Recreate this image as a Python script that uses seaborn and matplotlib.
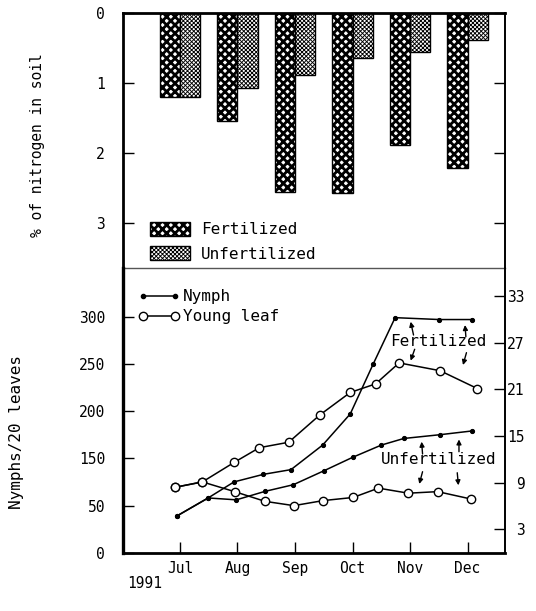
import numpy as np
import pandas as pd
import matplotlib
matplotlib.use("Agg")
import matplotlib.pyplot as plt
import matplotlib.transforms as mtransforms
import seaborn as sns
from matplotlib.lines import Line2D

# ---------------- data ----------------
months = ["Jul", "Aug", "Sep", "Oct", "Nov", "Dec"]
treatments = ["Fertilized", "Unfertilized"]
nitrogen_fert = [1.20, 1.55, 2.55, 2.57, 1.89, 2.22]
nitrogen_unfert = [1.20, 1.07, 0.89, 0.65, 0.56, 0.39]

# x in months after Jul (Jul = 0)
nymph_fert_x = [-0.05, 0.49, 0.94, 1.45, 1.93, 2.48, 2.96, 3.36, 3.74, 4.51, 5.08]
nymph_fert_y = [89, 108, 125, 133, 138, 164, 197, 250, 299, 297, 297]
nymph_unfert_x = [-0.05, 0.49, 0.98, 1.48, 1.97, 2.51, 3.00, 3.50, 3.89, 4.52, 5.08]
nymph_unfert_y = [89, 108, 106, 115, 122, 137, 151, 164, 171, 175, 179]

leaf_fert_x = [-0.09, 0.39, 0.94, 1.38, 1.89, 2.43, 2.96, 3.40, 3.81, 4.52, 5.17]
leaf_fert_y = [8.4, 9.1, 11.6, 13.5, 14.2, 17.7, 20.6, 21.7, 24.4, 23.4, 21.1]
leaf_unfert_x = [-0.09, 0.39, 0.95, 1.48, 1.98, 2.49, 3.01, 3.45, 3.97, 4.48, 5.06]
leaf_unfert_y = [8.4, 9.1, 7.85, 6.6, 6.05, 6.7, 7.1, 8.3, 7.65, 7.85, 6.9]

left_tick_pos = [50, 100, 150, 200, 250, 300]
left_tick_labels = ["0", "50", "150", "200", "250", "300"]
right_ticks = [3, 9, 15, 21, 27, 33]
nitro_ticks = [0, 1, 2, 3]

# annotation arrows (tail x, tail y, head x, head y) in month / nymph units
arrows = [
    (4.06, 280.6, 4.01, 294.7), (4.97, 278.8, 4.955, 291.2),
    (4.08, 265.5, 4.01, 253.4), (4.98, 261.9, 4.92, 248.8),
    (4.217, 154.6, 4.20, 167.6), (4.85, 157.0, 4.85, 170.0),
    (4.217, 135.8, 4.16, 122.8), (4.82, 134.7, 4.84, 121.4),
]
annot_texts = [("Fertilized", 4.49, 273.3), ("Unfertilized", 4.50, 148.9)]

# ---------------- style ----------------
sns.set_style("ticks")
plt.rcParams["font.family"] = ["DejaVu Sans Mono", "DejaVu Sans"]
plt.rcParams["hatch.linewidth"] = 1.6
for key in ["text.color", "axes.labelcolor", "xtick.color", "ytick.color",
            "axes.edgecolor"]:
    plt.rcParams[key] = "black"
FONT = 10.5

fig = plt.figure(figsize=(5.36, 6.11), dpi=100)
W, H = 536, 611
L, R = 123 / W, 505 / W
ax1 = fig.add_axes([L, 1 - 268 / H, R - L, (268 - 12.6) / H])
ax2 = fig.add_axes([L, 1 - 552.7 / H, R - L, (552.7 - 268) / H])
ax2.patch.set_visible(False)
xlim = (-0.99, 5.65)

# ---------------- top panel: bars ----------------
df = pd.DataFrame({
    "month": months * 2,
    "treatment": [treatments[0]] * 6 + [treatments[1]] * 6,
    "value": nitrogen_fert + nitrogen_unfert,
})
sns.barplot(data=df, x="month", y="value", hue="treatment", order=months,
            hue_order=treatments, palette=["white", "white"], width=0.7,
            edgecolor="black", linewidth=1.0, ax=ax1, legend=True)

styles = {0: ("xxxx", 2.0), 1: ("xxxxxxxx", 0.65)}
for i, cont in enumerate(ax1.containers):
    hatch, hlw = styles[i]
    for p in cont:
        p.set_hatch(hatch)
        if hasattr(p, "set_hatch_linewidth"):
            p.set_hatch_linewidth(hlw)

ax1.set_xlim(*xlim)
ax1.set_ylim(3.64, 0)
ax1.set_yticks(nitro_ticks)
ax1.set_yticklabels([str(t) for t in nitro_ticks])
ax1.set_xticks([])
ax1.set_xlabel("")
ax1.set_ylabel("% of nitrogen in soil", fontsize=FONT)
ax1.yaxis.set_label_coords(-0.205, 0.48)
ax1.tick_params(axis="y", direction="in", length=8, width=1, left=True, right=True,
                labelsize=FONT, pad=13)
for s in ["top", "left"]:
    ax1.spines[s].set_linewidth(2.0)
ax1.spines["right"].set_linewidth(1.4)
ax1.spines["bottom"].set_linewidth(1.0)
ax1.spines["bottom"].set_color("#555555")

leg = ax1.legend(loc="upper left", bbox_to_anchor=(0.07, 0.182), frameon=False,
                 fontsize=11.5, handlelength=2.5, handleheight=1.0,
                 handletextpad=0.7, labelspacing=0.55, borderpad=0, borderaxespad=0)
for i, h in enumerate(leg.legend_handles):
    hatch, hlw = styles[i]
    h.set_hatch(hatch)
    h.set_edgecolor("black")
    if hasattr(h, "set_hatch_linewidth"):
        h.set_hatch_linewidth(hlw)

# ---------------- bottom panel: lines ----------------
ax3 = ax2.twinx()
ax3.patch.set_visible(False)
dot = dict(color="black", marker="o", markersize=3.0, linewidth=1.1,
           markeredgecolor="black")
ring = dict(color="black", marker="o", markersize=6.0, linewidth=1.1,
            markerfacecolor="white", markeredgecolor="black", markeredgewidth=1.0)

sns.lineplot(x=nymph_fert_x, y=nymph_fert_y, ax=ax2, **dot)
sns.lineplot(x=nymph_unfert_x, y=nymph_unfert_y, ax=ax2, **dot)
sns.lineplot(x=leaf_fert_x, y=leaf_fert_y, ax=ax3, **ring)
sns.lineplot(x=leaf_unfert_x, y=leaf_unfert_y, ax=ax3, **ring)

ax2.set_xlim(*xlim)
ax2.set_ylim(50, 351.6)
ax3.set_ylim(0, 36.6)
ax2.set_xticks(range(len(months)))
ax2.set_xticklabels(months)
shift = mtransforms.ScaledTranslation(-3 / 100, 0, fig.dpi_scale_trans)
for lab in ax2.get_xticklabels():
    lab.set_transform(lab.get_transform() + shift)
ax2.set_yticks(left_tick_pos)
ax2.set_yticklabels(left_tick_labels)
ax3.set_yticks(right_ticks)
ax3.set_yticklabels([str(t) for t in right_ticks])
for lab in ax3.get_yticklabels():
    lab.set_horizontalalignment("right")

ax2.tick_params(axis="y", direction="in", length=8, width=1, left=True, right=False,
                labelsize=FONT, pad=13)
ax2.tick_params(axis="x", direction="in", length=8, width=1, bottom=True, top=False,
                labelsize=FONT, pad=6)
ax3.tick_params(axis="y", direction="in", length=8, width=1, left=False, right=True,
                labelsize=FONT, pad=14)

ax2.set_ylabel("Nymphs/20 leaves", fontsize=11.5)
ax2.yaxis.set_label_coords(-0.26, 0.424)
ax3.set_ylabel("")

ax2.spines["top"].set_visible(False)
ax2.spines["right"].set_visible(False)
ax2.spines["left"].set_linewidth(2.4)
ax2.spines["bottom"].set_linewidth(2.0)
for s in ["top", "left", "bottom"]:
    ax3.spines[s].set_visible(False)
ax3.spines["right"].set_linewidth(1.4)

ax2.text(0.058, -0.108, "1991", transform=ax2.transAxes, fontsize=FONT,
         ha="center", va="center")

for tx, ty, hx, hy in arrows:
    ax2.annotate("", xy=(hx, hy), xytext=(tx, ty),
                 arrowprops=dict(arrowstyle="-|>", color="black", lw=1.0,
                                 mutation_scale=7, shrinkA=0, shrinkB=0))
for txt, x, y in annot_texts:
    ax2.text(x, y, txt, fontsize=11.5, ha="center", va="center")

handles = [Line2D([], [], **dot), Line2D([], [], **ring)]
ax2.legend(handles, ["Nymph", "Young leaf"], loc="upper left",
           bbox_to_anchor=(0.04, 0.925), frameon=False, fontsize=11.5, numpoints=2,
           handlelength=2.6, handletextpad=0.2, labelspacing=0.3,
           borderpad=0, borderaxespad=0)

fig.savefig("out.png", dpi=100)
